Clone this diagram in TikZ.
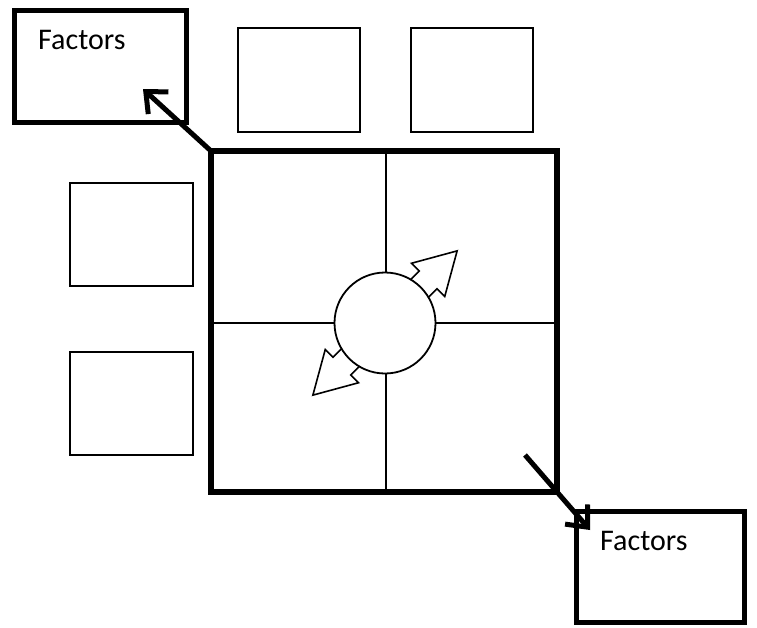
\documentclass[tikz,border=0pt]{standalone}
\usepackage{fontspec}
\setmainfont{Carlito}
\usetikzlibrary{arrows.meta}

\tikzset{
  thinbox/.style={draw, line width=1.8pt, inner sep=0pt, outer sep=0pt,
    minimum width=122pt, minimum height=104pt},
  factorbox/.style={draw, line width=5pt, inner sep=0pt, outer sep=0pt},
  label/.style={anchor=base west, inner sep=0pt,
    font=\fontsize{30}{36}\selectfont},
  divider/.style={line width=2pt},
  pointer/.style={line width=5pt, -{Straight Barb[length=17pt,width=30pt]}},
  blockarrow/.pic={
    \draw[line width=1.6pt, fill=white, line join=miter]
      (45,-12.5) -- (61,-12.5) -- (61,-23.5) -- (102,0)
      -- (61,23.5) -- (61,12.5) -- (45,12.5) -- cycle;
  }
}

\begin{document}
\begin{tikzpicture}[x=1pt,y=-1pt]
\useasboundingbox (0,0) rectangle (757,627);

% outer factor boxes
\node[factorbox, minimum width=172pt, minimum height=112pt] (ftl) at (100,66) {};
\node[factorbox, minimum width=168pt, minimum height=111pt] (fbr) at (660,566.5) {};
\node[label] (ftltext) at (38,49) {Factors};
\node[label] (fbrtext) at (600,550) {Factors};

% empty boxes
\node[thinbox] (ta) at (299,80) {};
\node[thinbox] (tb) at (472,80) {};
\node[thinbox, minimum width=123pt, minimum height=103pt] (la) at (131.5,234.5) {};
\node[thinbox, minimum width=123pt, minimum height=103pt] (lb) at (131.5,403.5) {};

% central square and its quadrants
\node[draw, line width=6pt, inner sep=0pt, outer sep=0pt,
      minimum width=346pt, minimum height=341pt] (sq) at (384,321.5) {};
\coordinate (hubc) at (385.5,322.7);
\draw[divider] (hubc|-sq.north) -- (hubc|-sq.south);
\draw[divider] (sq.west|-hubc) -- (sq.east|-hubc);

% hub with its two block arrows
\pic[rotate=45] at (385,323) {blockarrow};
\pic[rotate=225] at (385,323) {blockarrow};
\node[circle, draw, line width=1.8pt, fill=white, inner sep=0pt,
      minimum size=101pt] (hub) at (385,323) {};

% pointers to the factor boxes
\coordinate (ptl) at (143,89);
\coordinate (sbr) at (525,455);
\coordinate (pbr) at (590,530);
\draw[pointer] (sq.north west) -- (ptl);
\draw[pointer] (sbr) -- (pbr);
\end{tikzpicture}
\end{document}
